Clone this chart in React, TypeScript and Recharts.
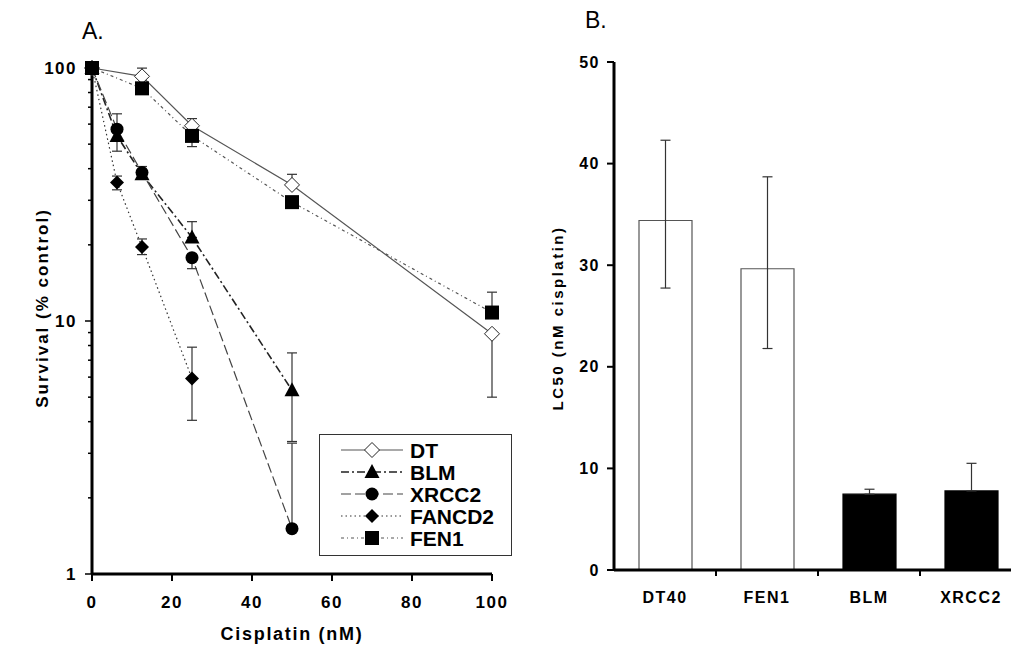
import React from "react";
import {
  LineChart,
  Line,
  XAxis,
  YAxis,
  ErrorBar,
  Legend,
  Label,
  BarChart,
  Bar,
  Cell,
} from "recharts";

const FONT = "'Liberation Sans', Arial, Helvetica, sans-serif";

// ---- panel A: survival (% control) vs cisplatin (nM) ----
const doseDT = [0, 12.5, 25, 50, 100];
const survDT = [100, 92.7, 59.1, 34.5, 8.9];
const errDT = [null, [0, 7.2], [0, 4], [0, 3.5], [3.9, 0]];

const doseBLM = [0, 6.25, 12.5, 25, 50];
const survBLM = [100, 53.9, 38, 21.4, 5.32];
const errBLM = [null, [7, 12], [0, 2.8], [0, 3.3], [1.98, 2.16]];

const doseXRCC2 = [0, 6.25, 12.5, 25, 50];
const survXRCC2 = [100, 57.3, 38.6, 17.8, 1.51];
const errXRCC2 = [null, null, null, [1.7, 0], [0, 1.78]];

const doseFANCD2 = [0, 6.25, 12.5, 25];
const survFANCD2 = [100, 35.3, 19.6, 5.92];
const errFANCD2 = [null, [2.3, 2.1], [1.3, 1.5], [1.87, 1.96]];

const doseFEN1 = [0, 12.5, 25, 50, 100];
const survFEN1 = [100, 83.1, 53.9, 29.5, 10.8];
const errFEN1 = [null, null, [5, 0], null, [0, 2.2]];

const xTicks = [0, 20, 40, 60, 80, 100];
const yTicks = [1, 2, 3, 4, 5, 6, 7, 8, 9, 10, 20, 30, 40, 50, 60, 70, 80, 90, 100];
const yMajor = [1, 10, 100];

// ---- panel B: LC50 (nM cisplatin) ----
const lines = ["DT40", "FEN1", "BLM", "XRCC2"];
const lc50 = [34.4, 29.65, 7.46, 7.78];
const lc50Low = [6.65, 7.85, 0, 0];
const lc50High = [7.9, 9.05, 0.49, 2.72];
const bTicks = [0, 10, 20, 30, 40, 50];

const toPoints = (xs: number[], ys: number[], errs: any[]) =>
  xs.map((x, i) => ({ x, y: ys[i], err: errs[i] }));

type Shape = "diamondOpen" | "triangle" | "circle" | "diamond" | "square";

const series: {
  name: string;
  data: { x: number; y: number; err: any }[];
  shape: Shape;
  stroke: string;
  width: number;
  dash?: string;
}[] = [
  { name: "DT", data: toPoints(doseDT, survDT, errDT), shape: "diamondOpen", stroke: "#555", width: 1.2 },
  { name: "BLM", data: toPoints(doseBLM, survBLM, errBLM), shape: "triangle", stroke: "#222", width: 1.6, dash: "8 3 2 3" },
  { name: "XRCC2", data: toPoints(doseXRCC2, survXRCC2, errXRCC2), shape: "circle", stroke: "#444", width: 1.2, dash: "10 4" },
  { name: "FANCD2", data: toPoints(doseFANCD2, survFANCD2, errFANCD2), shape: "diamond", stroke: "#333", width: 1.2, dash: "1.5 3" },
  { name: "FEN1", data: toPoints(doseFEN1, survFEN1, errFEN1), shape: "square", stroke: "#555", width: 1.2, dash: "3 3 1 3" },
];

function Marker({ cx, cy, shape }: { cx: number; cy: number; shape: Shape }) {
  if (cx == null || cy == null) return null;
  switch (shape) {
    case "diamondOpen":
      return (
        <polygon
          points={`${cx},${cy - 7.5} ${cx + 7.5},${cy} ${cx},${cy + 7.5} ${cx - 7.5},${cy}`}
          fill="#fff"
          stroke="#222"
          strokeWidth={1}
        />
      );
    case "diamond":
      return (
        <polygon
          points={`${cx},${cy - 7} ${cx + 7},${cy} ${cx},${cy + 7} ${cx - 7},${cy}`}
          fill="#000"
        />
      );
    case "triangle":
      return (
        <polygon
          points={`${cx},${cy - 8} ${cx + 7.5},${cy + 6} ${cx - 7.5},${cy + 6}`}
          fill="#000"
        />
      );
    case "circle":
      return <circle cx={cx} cy={cy} r={6.5} fill="#000" />;
    default:
      return <rect x={cx - 7} y={cy - 7} width={14} height={14} fill="#000" />;
  }
}

function LogTick(props: any) {
  const { x, y, payload } = props;
  const major = yMajor.includes(payload.value);
  return (
    <g>
      <line x1={x - (major ? 7 : 4)} x2={x} y1={y} y2={y} stroke="#000" strokeWidth={1.5} />
      {major && (
        <text
          x={x - 15}
          y={y}
          dy="0.36em"
          textAnchor="end"
          fontFamily={FONT}
          fontWeight="bold"
          fontSize={17}
          letterSpacing={1.5}
          fill="#000"
        >
          {payload.value}
        </text>
      )}
    </g>
  );
}

function LegendBox() {
  return (
    <svg width={193} height={122} style={{ display: "block" }}>
      <rect x={0.5} y={0.5} width={192} height={121} fill="#fff" stroke="#333" strokeWidth={1} />
      {series.map((s, i) => {
        const cy = 16 + i * 22;
        return (
          <g key={s.name}>
            <line
              x1={22}
              x2={84}
              y1={cy}
              y2={cy}
              stroke={s.stroke}
              strokeWidth={s.width}
              strokeDasharray={s.dash}
            />
            <Marker cx={53} cy={cy} shape={s.shape} />
            <text
              x={91}
              y={cy}
              dy="0.36em"
              fontFamily={FONT}
              fontWeight="bold"
              fontSize={21}
              fill="#000"
            >
              {s.name}
            </text>
          </g>
        );
      })}
    </svg>
  );
}

function CatTick(props: any) {
  const { x, y, payload, index } = props;
  const half = payload.offset || 51;
  return (
    <g>
      {index > 0 && (
        <line x1={x - half} x2={x - half} y1={y} y2={y + 6} stroke="#000" strokeWidth={2} />
      )}
      <text
        x={x}
        y={y + 33}
        textAnchor="middle"
        fontFamily={FONT}
        fontWeight="bold"
        fontSize={16}
        letterSpacing={1.5}
        fill="#000"
      >
        {payload.value}
      </text>
    </g>
  );
}

const panelLabel: React.CSSProperties = {
  position: "absolute",
  fontFamily: FONT,
  fontSize: 23,
  lineHeight: "23px",
  color: "#000",
};

export default function App() {
  const barData = lines.map((name, i) => ({
    name,
    value: lc50[i],
    err: [lc50Low[i], lc50High[i]],
  }));

  return (
    <div
      style={{
        position: "absolute",
        left: 0,
        top: 0,
        width: 1011,
        height: 650,
        overflow: "hidden",
        background: "#fff",
      }}
    >
      <div style={{ ...panelLabel, left: 82, top: 20 }}>A.</div>
      <div style={{ ...panelLabel, left: 585, top: 9 }}>B.</div>

      <div style={{ position: "absolute", left: 0, top: 0 }}>
        <LineChart width={540} height={650} margin={{ top: 68, right: 48, bottom: 36, left: 52 }}>
          <XAxis
            dataKey="x"
            type="number"
            domain={[0, 100]}
            ticks={xTicks}
            interval={0}
            height={40}
            axisLine={{ stroke: "#000", strokeWidth: 3 }}
            tickLine={{ stroke: "#000", strokeWidth: 2 }}
            tickSize={7}
            tickMargin={15}
            tick={{ fontFamily: FONT, fontWeight: "bold", fontSize: 17, letterSpacing: 1.5, fill: "#000" }}
          >
            <Label
              value="Cisplatin (nM)"
              position="bottom"
              offset={13}
              style={{ fontFamily: FONT, fontWeight: "bold", fontSize: 18, letterSpacing: 1.7, fill: "#000" }}
            />
          </XAxis>
          <YAxis
            dataKey="y"
            type="number"
            scale="log"
            domain={[1, 100]}
            ticks={yTicks}
            interval={0}
            width={40}
            axisLine={{ stroke: "#000", strokeWidth: 3 }}
            tickLine={false}
            tickSize={0}
            tickMargin={0}
            tick={<LogTick />}
          >
            <Label
              content={() => (
                <text
                  x={42}
                  y={308}
                  transform="rotate(-90, 42, 308)"
                  textAnchor="middle"
                  dy="0.36em"
                  fontFamily={FONT}
                  fontWeight="bold"
                  fontSize={17}
                  letterSpacing={2}
                  fill="#000"
                >
                  Survival (% control)
                </text>
              )}
            />
          </YAxis>
          {series.map((s) => (
            <Line
              key={s.name}
              data={s.data}
              dataKey="y"
              name={s.name}
              type="linear"
              stroke={s.stroke}
              strokeWidth={s.width}
              strokeDasharray={s.dash}
              activeDot={false}
              isAnimationActive={false}
              dot={(p: any) => (
                <g key={`${s.name}-${p.index}`}>
                  <Marker cx={p.cx} cy={p.cy} shape={s.shape} />
                </g>
              )}
            >
              <ErrorBar dataKey="err" direction="y" width={5} stroke="#333" strokeWidth={1.2} />
            </Line>
          ))}
          <Legend
            layout="vertical"
            align="center"
            verticalAlign="middle"
            content={() => <LegendBox />}
            wrapperStyle={{ position: "absolute", left: 319, top: 434, width: 193, height: 122 }}
          />
        </LineChart>
      </div>

      <div style={{ position: "absolute", left: 540, top: 0 }}>
        <BarChart
          width={482}
          height={650}
          data={barData}
          margin={{ top: 62, right: 0, bottom: 40, left: 30 }}
        >
          <XAxis
            dataKey="name"
            height={40}
            axisLine={{ stroke: "#000", strokeWidth: 3 }}
            tickLine={false}
            tickSize={0}
            tickMargin={0}
            interval={0}
            tick={<CatTick />}
          />
          <YAxis
            type="number"
            domain={[0, 50]}
            ticks={bTicks}
            interval={0}
            width={44}
            axisLine={{ stroke: "#000", strokeWidth: 3 }}
            tickLine={{ stroke: "#000", strokeWidth: 2 }}
            tickSize={7}
            tickMargin={7}
            tick={{ fontFamily: FONT, fontWeight: "bold", fontSize: 16, letterSpacing: 1.5, fill: "#000" }}
          >
            <Label
              content={() => (
                <text
                  x={18}
                  y={318}
                  transform="rotate(-90, 18, 318)"
                  textAnchor="middle"
                  dy="0.36em"
                  fontFamily={FONT}
                  fontWeight="bold"
                  fontSize={15}
                  letterSpacing={2.5}
                  fill="#000"
                >
                  LC50 (nM cisplatin)
                </text>
              )}
            />
          </YAxis>
          <Bar dataKey="value" barSize={53} isAnimationActive={false} stroke="#555" strokeWidth={1.2}>
            {barData.map((d, i) => (
              <Cell key={d.name} fill={i < 2 ? "#fff" : "#000"} stroke={i < 2 ? "#555" : "#000"} />
            ))}
            <ErrorBar dataKey="err" direction="y" width={5} stroke="#333" strokeWidth={1.2} />
          </Bar>
        </BarChart>
      </div>
    </div>
  );
}
